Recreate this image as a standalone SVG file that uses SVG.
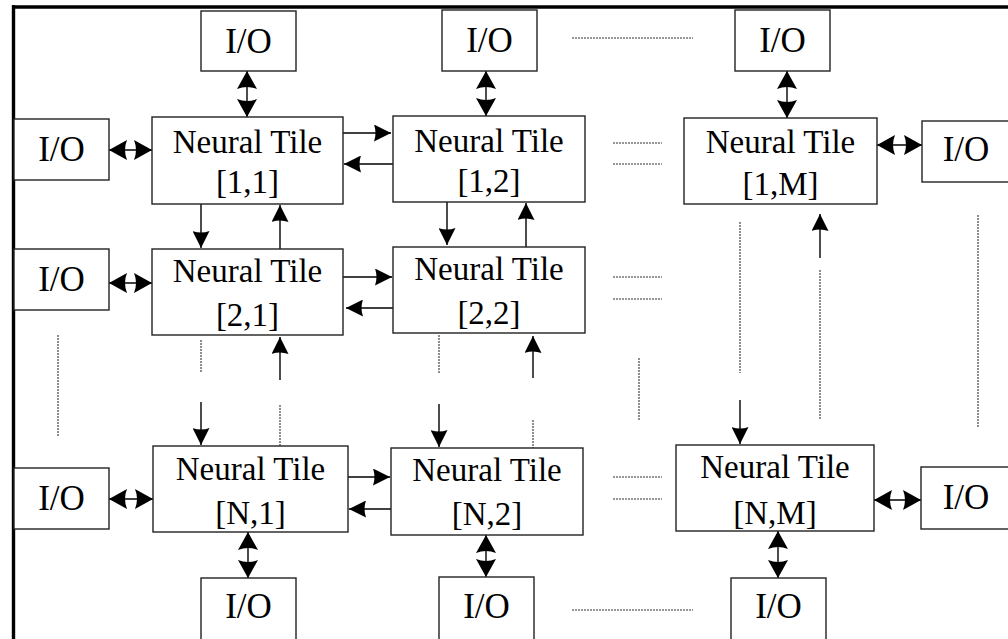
<svg xmlns="http://www.w3.org/2000/svg" width="1008" height="639" viewBox="0 0 1008 639">
<defs>
<style>
.box{fill:#fff;stroke:#222;stroke-width:1.4}
.t{font-family:"Liberation Serif","Times New Roman",serif;font-size:33px;fill:#000;text-anchor:middle}
.io{font-family:"Liberation Serif","Times New Roman",serif;font-size:35px;fill:#000;text-anchor:middle}
.dv{stroke:#000;stroke-width:1.4;fill:none;marker-start:url(#big);marker-end:url(#big)}
.ar{stroke:#000;stroke-width:1.4;fill:none;marker-end:url(#arr)}
.dot{stroke:#333;stroke-width:1.1;fill:none;stroke-dasharray:2 1}
</style>
<marker id="big" markerUnits="userSpaceOnUse" viewBox="0 0 18 20" markerWidth="18" markerHeight="20" refX="18" refY="10" orient="auto-start-reverse"><path d="M0,0 L18,10 L0,20 Q4,10 0,0 Z" fill="#000"/></marker>
<marker id="arr" markerUnits="userSpaceOnUse" viewBox="0 0 17 17" markerWidth="17" markerHeight="17" refX="17" refY="8.5" orient="auto"><path d="M0,0 L17,8.5 L0,17 Q3,8.5 0,0 Z" fill="#000"/></marker>
</defs>
<rect x="0" y="0" width="1008" height="639" fill="#fff"/>
<g id="border">
<line x1="12" y1="7" x2="1008" y2="7" stroke="#000" stroke-width="3.4"/>
<line x1="13.5" y1="5.3" x2="13.5" y2="639" stroke="#000" stroke-width="3.4"/>
</g>
<g id="connectors">
<line class="dv" x1="247" y1="71" x2="247" y2="117"/>
<line class="dv" x1="486" y1="71" x2="486" y2="116"/>
<line class="dv" x1="787" y1="71" x2="787" y2="118"/>
<line class="dv" x1="248" y1="532" x2="248" y2="578"/>
<line class="dv" x1="486" y1="535" x2="486" y2="577"/>
<line class="dv" x1="778" y1="531" x2="778" y2="578"/>
<line class="dv" x1="109" y1="150" x2="152" y2="150"/>
<line class="dv" x1="109" y1="283" x2="152" y2="283"/>
<line class="dv" x1="109" y1="499" x2="153" y2="499"/>
<line class="dv" x1="877" y1="145" x2="922" y2="145"/>
<line class="dv" x1="874" y1="500" x2="921" y2="500"/>
<line class="ar" x1="343" y1="133" x2="391" y2="133"/>
<line class="ar" x1="393" y1="164" x2="344" y2="164"/>
<line class="ar" x1="343" y1="277" x2="392" y2="277"/>
<line class="ar" x1="393" y1="308" x2="346" y2="308"/>
<line class="ar" x1="348" y1="477" x2="390" y2="477"/>
<line class="ar" x1="391" y1="509" x2="349" y2="509"/>
<line class="ar" x1="201" y1="204" x2="201" y2="248"/>
<line class="ar" x1="280" y1="249" x2="280" y2="205"/>
<line class="ar" x1="447" y1="202" x2="447" y2="245"/>
<line class="ar" x1="526" y1="247" x2="526" y2="203"/>
<line class="ar" x1="201" y1="402" x2="201" y2="445"/>
<line class="ar" x1="280" y1="380" x2="280" y2="337"/>
<line class="ar" x1="439" y1="404" x2="439" y2="447"/>
<line class="ar" x1="533" y1="378" x2="533" y2="336"/>
<line class="ar" x1="740" y1="400" x2="740" y2="444"/>
<line class="ar" x1="820" y1="258" x2="820" y2="214"/>
<line class="dot" x1="572" y1="38" x2="693" y2="38"/>
<line class="dot" x1="572" y1="610" x2="693" y2="610"/>
<line class="dot" x1="613" y1="143" x2="662" y2="143"/>
<line class="dot" x1="613" y1="164" x2="662" y2="164"/>
<line class="dot" x1="613" y1="277" x2="662" y2="277"/>
<line class="dot" x1="613" y1="299" x2="662" y2="299"/>
<line class="dot" x1="613" y1="477" x2="662" y2="477"/>
<line class="dot" x1="613" y1="499" x2="662" y2="499"/>
<line class="dot" x1="58" y1="335" x2="58" y2="436"/>
<line class="dot" x1="201" y1="340" x2="201" y2="373"/>
<line class="dot" x1="280" y1="405" x2="280" y2="446"/>
<line class="dot" x1="439" y1="335" x2="439" y2="373"/>
<line class="dot" x1="533" y1="420" x2="533" y2="448"/>
<line class="dot" x1="639" y1="358" x2="639" y2="420"/>
<line class="dot" x1="740" y1="222" x2="740" y2="373"/>
<line class="dot" x1="820" y1="270" x2="820" y2="420"/>
<line class="dot" x1="978" y1="215" x2="978" y2="427"/>
</g>
<g id="io-top-1"><rect class="box" x="201" y="11" width="95" height="60"/><text class="io" x="248.5" y="53">I/O</text></g>
<g id="io-top-2"><rect class="box" x="442" y="10" width="95" height="61"/><text class="io" x="489.5" y="52">I/O</text></g>
<g id="io-top-3"><rect class="box" x="735" y="10" width="95" height="61"/><text class="io" x="782.5" y="52">I/O</text></g>
<g id="io-left-1"><rect class="box" x="14" y="119" width="95" height="61"/><text class="io" x="61.5" y="161">I/O</text></g>
<g id="io-left-2"><rect class="box" x="14" y="249" width="95" height="61"/><text class="io" x="61.5" y="291">I/O</text></g>
<g id="io-left-n"><rect class="box" x="14" y="468" width="95" height="61"/><text class="io" x="61.5" y="510">I/O</text></g>
<g id="io-right-1"><rect class="box" x="922" y="121" width="95" height="61"/><text class="io" x="966" y="161">I/O</text></g>
<g id="io-right-n"><rect class="box" x="921" y="467" width="95" height="62"/><text class="io" x="966" y="509">I/O</text></g>
<g id="io-bot-1"><rect class="box" x="201" y="578" width="95" height="62"/><text class="io" x="248.5" y="618">I/O</text></g>
<g id="io-bot-2"><rect class="box" x="439" y="577" width="95" height="63"/><text class="io" x="486.5" y="618">I/O</text></g>
<g id="io-bot-3"><rect class="box" x="731" y="578" width="95" height="62"/><text class="io" x="778.5" y="618">I/O</text></g>
<g id="tile-1-1"><rect class="box" x="152" y="117" width="191" height="87"/><text class="t" x="247.5" y="153">Neural Tile</text><text class="t" x="247.5" y="193">[1,1]</text></g>
<g id="tile-1-2"><rect class="box" x="393" y="116" width="192" height="86"/><text class="t" x="489" y="152">Neural Tile</text><text class="t" x="489" y="192">[1,2]</text></g>
<g id="tile-1-m"><rect class="box" x="684" y="118" width="193" height="86"/><text class="t" x="780.5" y="153">Neural Tile</text><text class="t" x="780.5" y="195">[1,M]</text></g>
<g id="tile-2-1"><rect class="box" x="152" y="249" width="191" height="86"/><text class="t" x="247.5" y="282">Neural Tile</text><text class="t" x="247.5" y="326">[2,1]</text></g>
<g id="tile-2-2"><rect class="box" x="393" y="247" width="192" height="86"/><text class="t" x="489" y="280">Neural Tile</text><text class="t" x="489" y="324">[2,2]</text></g>
<g id="tile-n-1"><rect class="box" x="153" y="446" width="195" height="86"/><text class="t" x="250.5" y="480">Neural Tile</text><text class="t" x="250.5" y="524">[N,1]</text></g>
<g id="tile-n-2"><rect class="box" x="391" y="448" width="192" height="87"/><text class="t" x="487" y="481">Neural Tile</text><text class="t" x="487" y="525">[N,2]</text></g>
<g id="tile-n-m"><rect class="box" x="676" y="445" width="198" height="86"/><text class="t" x="775" y="478">Neural Tile</text><text class="t" x="775" y="524">[N,M]</text></g>
</svg>
